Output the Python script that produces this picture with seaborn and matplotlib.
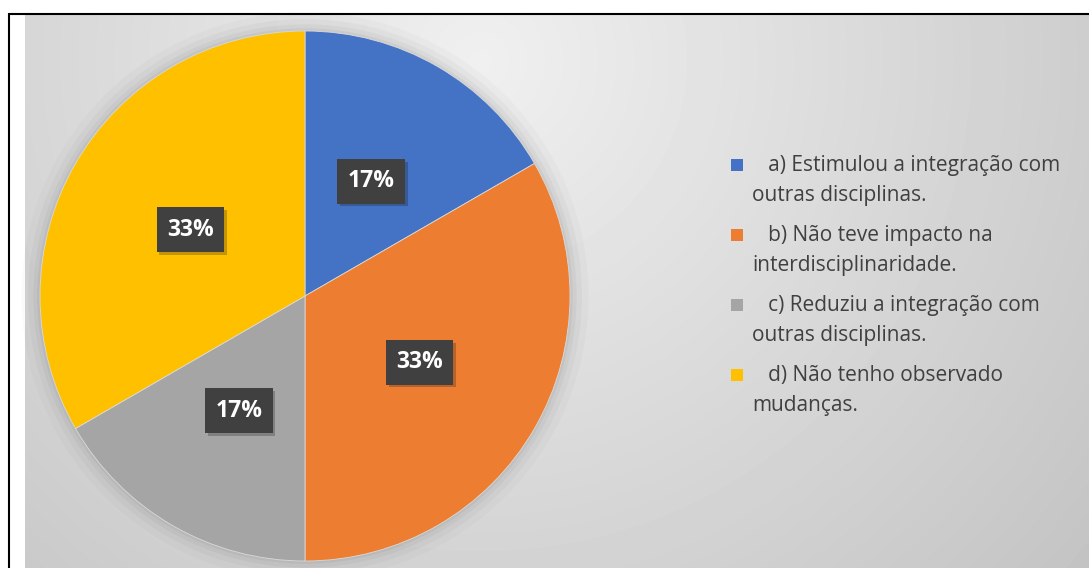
import numpy as np
import seaborn as sns
import matplotlib.pyplot as plt
from matplotlib.patches import Rectangle, Circle
from matplotlib import patheffects

#DADOS
categorias = [
    "a) Estimulou a integração com\noutras disciplinas.",
    "b) Não teve impacto na\ninterdisciplinaridade.",
    "c) Reduziu a integração com\noutras disciplinas.",
    "d) Não tenho observado\nmudanças.",
]
respostas = [1, 2, 1, 2]
cores = ["#4472C4", "#ED7D31", "#A5A5A5", "#FFC000"]

sns.set_theme(style="white")
plt.rcParams["font.family"] = ["Open Sans", "DejaVu Sans"]

W, H = 1089, 568
fig = plt.figure(figsize=(W / 100, H / 100), dpi=100)
fig.patch.set_facecolor("white")

#Fundo com gradiente (estilo Excel)
fundo = fig.add_axes([25 / W, 0, 1 - 25 / W, 1 - 15 / H])
yy, xx = np.mgrid[15:H, 25:W]
dist = np.sqrt((xx - 480) ** 2 + (yy - 60) ** 2)
tons = np.clip(0.94 - dist * 0.00022, 0.75, 0.94)
fundo.imshow(tons, cmap="gray", vmin=0, vmax=1, aspect="auto",
             extent=[0, 1, 0, 1], origin="upper")
fundo.axis("off")

#Moldura preta
fig.patches.append(Rectangle((9 / W, -0.01), 1.0, 1 - 14 / H + 0.01,
                             transform=fig.transFigure, fill=False,
                             edgecolor="black", linewidth=1.5))

#Pizza
ax = fig.add_axes([40 / W, 1 - 561 / H, 530 / W, 530 / H])
for r, a in zip([1.07, 1.045, 1.025, 1.01], [0.025, 0.035, 0.045, 0.055]):
    ax.add_patch(Circle((0, 0), r, color="#303030", alpha=a, lw=0,
                        zorder=0, clip_on=False))

fatias, _, textos = ax.pie(
    respostas,
    colors=cores,
    startangle=90,
    counterclock=False,
    autopct="%1.0f%%",
    pctdistance=0.5,
    wedgeprops={"linewidth": 0.6, "edgecolor": "#d9d9d9"},
    textprops={"fontsize": 16.5, "color": "white", "weight": "bold"},
)
for t in textos:
    t.set_bbox(dict(boxstyle="square,pad=0.45", facecolor="#404040", edgecolor="none"))
    t.get_bbox_patch().set_path_effects([
        patheffects.SimplePatchShadow(offset=(2, -2), alpha=0.25),
        patheffects.Normal()])
ax.set_xlim(-1.0, 1.0)
ax.set_ylim(-1.0, 1.0)
ax.set_aspect("equal")
ax.axis("off")

#Legenda (montada a mao para alinhar o quadrado com a primeira linha)
for i, (cat, cor) in enumerate(zip(categorias, cores)):
    y = 165 + 70 * i
    linha1, linha2 = cat.split("\n")
    fig.patches.append(Rectangle((731 / W, 1 - (y + 6) / H), 12 / W, 12 / H,
                                 transform=fig.transFigure, facecolor=cor,
                                 edgecolor="none"))
    fig.text(752 / W, 1 - y / H, "   " + linha1, fontsize=15, color="#404040",
             va="center", ha="left")
    fig.text(752 / W, 1 - (y + 31) / H, linha2, fontsize=15, color="#404040",
             va="center", ha="left")

fig.savefig("out.png", dpi=100)
